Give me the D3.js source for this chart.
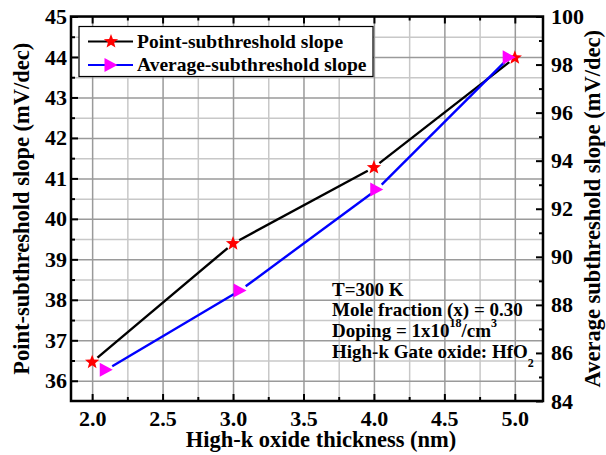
<!DOCTYPE html>
<html>
<head>
<meta charset="utf-8">
<script src="https://cdn.jsdelivr.net/npm/d3@7"></script>
<style>
  body { margin: 0; background: #fff; }
  svg text { font-family: "Liberation Serif", "Times New Roman", serif; font-weight: bold; fill: #000; }
</style>
</head>
<body>
<svg id="chart" width="606" height="455"></svg>
<script>
// data
const thickness = [2.0, 3.0, 4.0, 5.0];
const pointSS = [36.46, 39.39, 41.27, 43.98];          // left axis
const avgThickness = [2.1, 3.05, 4.02, 4.96];
const avgSS = [85.3, 88.6, 92.8, 98.3];                 // right axis
const xTicks = [2.0, 2.5, 3.0, 3.5, 4.0, 4.5, 5.0];
const leftTicks = [36, 37, 38, 39, 40, 41, 42, 43, 44, 45];
const rightTicks = [84, 86, 88, 90, 92, 94, 96, 98, 100];
const legendLabels = ['Point-subthreshold slope', 'Average-subthreshold slope'];

const m = { left: 71, right: 543, top: 16.5, bottom: 401 };
const svg = d3.select('#chart');

const x = d3.scaleLinear().domain([1.85, 5.2]).range([m.left, m.right]);
const yL = d3.scaleLinear().domain([35.5, 45]).range([m.bottom, m.top]);
const yR = d3.scaleLinear().domain([84, 100]).range([m.bottom, m.top]);

const xMinor = [2.25, 2.75, 3.25, 3.75, 4.25, 4.75];
const leftMinor = [36.5, 37.5, 38.5, 39.5, 40.5, 41.5, 42.5, 43.5, 44.5];
const rightMinor = [85, 87, 89, 91, 93, 95, 97, 99];

// grid (drawn with the library's axes, ticks stretched over the plot)
const gridStyle = (g, col) => {
    g.select('.domain').remove();
    g.selectAll('.tick line').attr('stroke', col).attr('stroke-width', 1.5);
};
const pw = m.right - m.left, ph = m.bottom - m.top;
svg.append('g').attr('transform', `translate(0,${m.bottom})`)
    .call(d3.axisBottom(x).tickValues(xMinor).tickFormat('').tickSize(-ph)).call(gridStyle, '#c8c8c8');
svg.append('g').attr('transform', `translate(${m.left},0)`)
    .call(d3.axisLeft(yL).tickValues(leftMinor).tickFormat('').tickSize(-pw)).call(gridStyle, '#c8c8c8');
svg.append('g').attr('transform', `translate(0,${m.bottom})`)
    .call(d3.axisBottom(x).tickValues(xTicks).tickFormat('').tickSize(-ph)).call(gridStyle, '#9a9a9a');
svg.append('g').attr('transform', `translate(${m.left},0)`)
    .call(d3.axisLeft(yL).tickValues(leftTicks).tickFormat('').tickSize(-pw)).call(gridStyle, '#9a9a9a');

// axes
const fmt1 = d3.format('.1f');
const styleAxis = g => {
    g.select('.domain').remove();
    g.selectAll('.tick line').attr('stroke', '#000').attr('stroke-width', 2);
    g.selectAll('text').style('font-size', '22px');
};
svg.append('g').attr('transform', `translate(0,${m.bottom})`)
    .call(d3.axisBottom(x).tickValues(xTicks).tickFormat(fmt1).tickSize(-7).tickPadding(9))
    .call(styleAxis);
svg.append('g').attr('transform', `translate(0,${m.bottom})`)
    .call(d3.axisBottom(x).tickValues(xMinor).tickFormat('').tickSize(-4)).call(styleAxis);
svg.append('g').attr('transform', `translate(0,${m.top})`)
    .call(d3.axisTop(x).tickValues(xTicks).tickFormat('').tickSize(-7)).call(styleAxis);
svg.append('g').attr('transform', `translate(0,${m.top})`)
    .call(d3.axisTop(x).tickValues(xMinor).tickFormat('').tickSize(-4)).call(styleAxis);
svg.append('g').attr('transform', `translate(${m.left},0)`)
    .call(d3.axisLeft(yL).tickValues(leftTicks).tickSize(-7).tickPadding(4))
    .call(styleAxis);
svg.append('g').attr('transform', `translate(${m.left},0)`)
    .call(d3.axisLeft(yL).tickValues(leftMinor).tickFormat('').tickSize(-4)).call(styleAxis);
svg.append('g').attr('transform', `translate(${m.right},0)`)
    .call(d3.axisRight(yR).tickValues(rightTicks).tickSize(-7).tickPadding(8))
    .call(styleAxis);
svg.append('g').attr('transform', `translate(${m.right},0)`)
    .call(d3.axisRight(yR).tickValues(rightMinor).tickFormat('').tickSize(-4)).call(styleAxis);

svg.append('rect')
    .attr('x', m.left).attr('y', m.top)
    .attr('width', pw).attr('height', ph)
    .attr('fill', 'none').attr('stroke', '#000').attr('stroke-width', 2.5);

// axis titles
svg.append('text').attr('x', (m.left + m.right) / 2 + 14).attr('y', 447)
    .attr('text-anchor', 'middle').style('font-size', '22.5px')
    .text('High-k oxide thickness (nm)');
svg.append('text').attr('transform', `translate(29,${(m.top + m.bottom) / 2}) rotate(-90)`)
    .attr('text-anchor', 'middle').style('font-size', '22.5px')
    .text('Point-subthreshold slope (mV/dec)');
svg.append('text').attr('transform', `translate(600,${(m.top + m.bottom) / 2}) rotate(-90)`)
    .attr('text-anchor', 'middle').style('font-size', '22.5px')
    .text('Average subthreshold slope (mV/dec)');

// markers
const starPath = (r, ri) => {
    const p = [];
    for (let i = 0; i < 10; i++) {
        const a = -Math.PI / 2 + i * Math.PI / 5;
        const rr = i % 2 ? ri : r;
        p.push([rr * Math.cos(a), rr * Math.sin(a)]);
    }
    return 'M' + p.map(q => q.join(',')).join('L') + 'Z';
};
const star = starPath(7.5, 3.2);
const tri = 'M-6.5,-7L6.5,0L-6.5,7Z';

// lines with small gaps at markers
const gapLines = (pts, gap, color) => {
    for (let i = 0; i < pts.length - 1; i++) {
        const [a, b] = [pts[i], pts[i + 1]];
        const dx = b[0] - a[0], dy = b[1] - a[1];
        const len = Math.hypot(dx, dy);
        const ux = dx / len, uy = dy / len;
        svg.append('line')
            .attr('x1', a[0] + ux * gap).attr('y1', a[1] + uy * gap)
            .attr('x2', b[0] - ux * gap).attr('y2', b[1] - uy * gap)
            .attr('stroke', color).attr('stroke-width', 2.4);
    }
};
const pPts = thickness.map((t, i) => [x(t), yL(pointSS[i])]);
const aPts = avgThickness.map((t, i) => [x(t), yR(avgSS[i])]);
gapLines(pPts, 7, '#000');
gapLines(aPts, 7, '#0000ff');

svg.selectAll('path.star').data(pPts).enter().append('path').attr('class', 'star')
    .attr('d', star).attr('transform', d => `translate(${d[0]},${d[1]})`).attr('fill', '#ff0000');
svg.selectAll('path.tri').data(aPts).enter().append('path').attr('class', 'tri')
    .attr('d', tri).attr('transform', d => `translate(${d[0]},${d[1]})`).attr('fill', '#ff00ff');

// legend
const lg = svg.append('g');
lg.append('rect').attr('x', 79).attr('y', 26.5).attr('width', 294).attr('height', 50)
    .attr('fill', '#fff').attr('stroke', '#000').attr('stroke-width', 1.2);
const legendStyle = [{ line: '#000', mark: star, fill: '#ff0000' }, { line: '#0000ff', mark: tri, fill: '#ff00ff' }];
legendLabels.forEach((lab, i) => {
    const cy = 41.5 + i * 23.5;
    lg.append('line').attr('x1', 88).attr('x2', 133).attr('y1', cy).attr('y2', cy)
        .attr('stroke', legendStyle[i].line).attr('stroke-width', 2.2);
    lg.append('path').attr('d', legendStyle[i].mark).attr('transform', `translate(111,${cy})`)
        .attr('fill', legendStyle[i].fill);
    lg.append('text').attr('x', 137).attr('y', cy + 6).style('font-size', '19.5px').text(lab);
});

// annotation
const ann = svg.append('g').style('font-size', '19px');
const ax = 332;
ann.append('text').attr('x', ax).attr('y', 295.5).text('T=300 K');
ann.append('text').attr('x', ax).attr('y', 316).text('Mole fraction (x) = 0.30');
const t3 = ann.append('text').attr('x', ax).attr('y', 337);
t3.append('tspan').text('Doping = 1x10');
t3.append('tspan').attr('dy', -10).style('font-size', '12px').text('18');
t3.append('tspan').attr('dy', 10).text('/cm');
t3.append('tspan').attr('dy', -10).style('font-size', '12px').text('3');
const t4 = ann.append('text').attr('x', ax).attr('y', 357.5);
t4.append('tspan').text('High-k Gate oxide: HfO');
t4.append('tspan').attr('dy', 9).style('font-size', '12px').text('2');
</script>
</body>
</html>
